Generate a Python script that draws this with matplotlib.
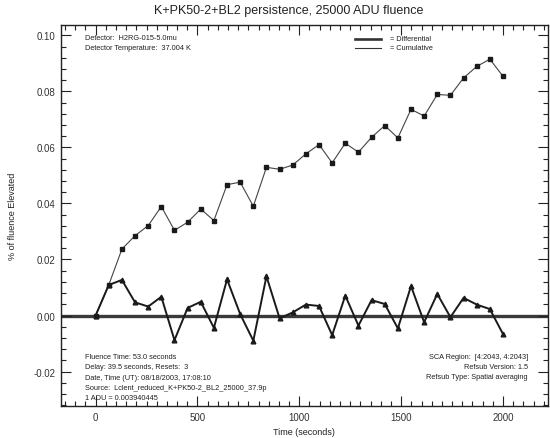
import numpy as np
import matplotlib
matplotlib.use("Agg")
import matplotlib.pyplot as plt
from matplotlib.ticker import MultipleLocator, FormatStrFormatter

plt.rcParams['font.family'] = ['Liberation Sans', 'DejaVu Sans']

# Sample times (seconds): 32 reads from 0 to 2000 s
time_s = [0.0, 64.5, 129.0, 193.5, 258.1, 322.6, 387.1, 451.6, 516.1, 580.6,
          645.2, 709.7, 774.2, 838.7, 903.2, 967.7, 1032.3, 1096.8, 1161.3,
          1225.8, 1290.3, 1354.8, 1419.4, 1483.9, 1548.4, 1612.9, 1677.4,
          1741.9, 1806.5, 1871.0, 1935.5, 2000.0]

# Persistence signal, % of fluence
differential = [0.0, 0.0109, 0.0127, 0.0047, 0.0032, 0.0067, -0.0088, 0.0027,
                0.0049, -0.0044, 0.0129, 0.0005, -0.0090, 0.0140, -0.0010,
                0.0011, 0.0039, 0.0034, -0.0070, 0.0071, -0.0036, 0.0055,
                0.0041, -0.0046, 0.0105, -0.0024, 0.0077, -0.0006, 0.0063,
                0.0039, 0.0023, -0.0066]
cumulative = [0.0, 0.0109, 0.0237, 0.0285, 0.0321, 0.0389, 0.0304, 0.0333,
              0.0380, 0.0339, 0.0467, 0.0476, 0.0390, 0.0529, 0.0522, 0.0537,
              0.0577, 0.0610, 0.0545, 0.0615, 0.0583, 0.0636, 0.0678, 0.0634,
              0.0736, 0.0712, 0.0789, 0.0786, 0.0848, 0.0889, 0.0915, 0.0854]

title = "K+PK50-2+BL2 persistence, 25000 ADU fluence"
header_left = ["Detector:  H2RG-015-5.0mu",
               "Detector Temperature:  37.004 K"]
footer_left = ["Fluence Time: 53.0 seconds",
               "Delay: 39.5 seconds, Resets:  3",
               "Date, Time (UT): 08/18/2003, 17:08:10",
               "Source:  Lclent_reduced_K+PK50-2_BL2_25000_37.9p",
               "1 ADU = 0.003940445"]
footer_right = ["SCA Region:  [4:2043, 4:2043]",
                "Refsub Version: 1.5",
                "Refsub Type: Spatial averaging"]

W, H = 550, 439
fig = plt.figure(figsize=(W / 100, H / 100), dpi=100)
ax = fig.add_axes([61 / W, 1 - 407 / H, (548 - 61) / W, (407 - 26) / H])

ink = '#1a1a1a'
ax.axhline(0.0, color='#3a3a3a', lw=2.4, zorder=1)
ax.plot(time_s, cumulative, color='#444444', lw=0.8, marker='s', ms=3.2,
        mfc=ink, mec=ink, zorder=3)
ax.plot(time_s, differential, color=ink, lw=1.4, marker='^', ms=3.4,
        mfc=ink, mec=ink, zorder=4)

ax.set_xlim(-170, 2221)
ax.set_ylim(-0.0323, 0.1037)

ax.xaxis.set_major_locator(MultipleLocator(500))
ax.xaxis.set_minor_locator(MultipleLocator(50))
ax.yaxis.set_major_locator(MultipleLocator(0.02))
ax.yaxis.set_minor_locator(MultipleLocator(0.004))
ax.yaxis.set_major_formatter(FormatStrFormatter('%.2f'))
ax.tick_params(which='both', direction='in', top=True, right=True,
               width=0.8, color='#222222', labelsize=7, labelcolor='#333333')
ax.tick_params(which='major', length=7, pad=4)
ax.tick_params(which='minor', length=3.5)
for s in ax.spines.values():
    s.set_linewidth(1.0)
    s.set_color('#222222')

fig.text(288.5 / W, 1 - 11 / H, title, ha='center', va='center',
         fontsize=9, color='#222222')
fig.text(304 / W, 1 - 433 / H, "Time (seconds)", ha='center', va='center',
         fontsize=6.5, color='#222222')
fig.text(13 / W, 1 - 216 / H, "% of fluence Elevated", ha='center',
         va='center', rotation=90, fontsize=6.5, color='#222222')

small = dict(fontsize=5.3, color='#222222', va='center')
for i, s in enumerate(header_left):
    fig.text(85 / W, 1 - (38.5 + 9.5 * i) / H, s, ha='left', **small)
for i, s in enumerate(footer_left):
    fig.text(85 / W, 1 - (357.5 + 10.3 * i) / H, s, ha='left', **small)
for i, s in enumerate(footer_right):
    fig.text(528 / W, 1 - (357.5 + 10 * i) / H, s, ha='right', **small)

# Key for the two curves
key_rows = [("= Differential", 1.9, 39.5), ("= Cumulative", 0.8, 48.5)]
for label, lw, yp in key_rows:
    fig.add_artist(plt.Line2D([355 / W, 381 / W], [1 - yp / H, 1 - yp / H],
                              color='#333333', lw=lw))
    fig.text(390 / W, 1 - yp / H, label, ha='left', **small)

fig.savefig("out.png", dpi=100)
